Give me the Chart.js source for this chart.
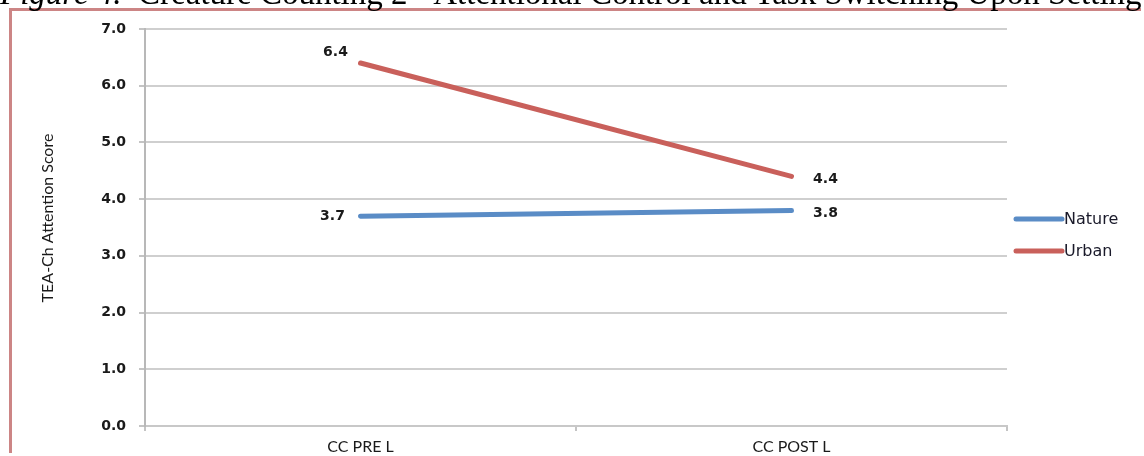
<!DOCTYPE html>
<html>
<head>
<meta charset="utf-8">
<script src="https://cdn.jsdelivr.net/npm/chart.js@4.4.1/dist/chart.umd.min.js"></script>
<style>
  html, body { margin: 0; padding: 0; background: #fff; overflow: hidden; }
  #wrap { position: relative; width: 1144px; height: 456px; overflow: hidden; background: #fff; }
  #chart { position: absolute; left: 0; top: 0; }
  #caption {
    position: absolute; left: 0; top: -23px; white-space: pre; line-height: 1;
    font-family: "Liberation Serif", serif; font-size: 33px; color: #000;
  }
</style>
</head>
<body>
<div id="wrap">
  <canvas id="chart" width="1144" height="456"></canvas>
  <div id="caption"><i>Figure 4.</i>  Creature Counting 2 - Attentional Control and Task Switching Upon Setting</div>
</div>
<script>
// Mean TEA-Ch scores before and after the walk, by setting
const categories = ['CC PRE L', 'CC POST L'];
const natureScores = [3.7, 3.8];
const urbanScores = [6.4, 4.4];
const seriesNames = ['Nature', 'Urban'];
const yTickValues = [0, 1, 2, 3, 4, 5, 6, 7];

const seriesColors = ['#5a8cc6', '#c9605b'];
// label placement around each point: [dx, dy] for first and second category
const labelOffsets = [
  [[-28, 0], [34, 3]],
  [[-25, -11], [34, 3]]
];

// frame edge down the left of the figure and across its top
const figureFrame = {
  id: 'figureFrame',
  beforeDraw(chart) {
    const ctx = chart.ctx;
    ctx.save();
    ctx.fillStyle = '#cc8585';
    ctx.fillRect(9, 8, 3, chart.height - 11);
    ctx.fillRect(9, 8, chart.width - 12, 3);
    ctx.restore();
  }
};

const valueLabels = {
  id: 'valueLabels',
  afterDatasetsDraw(chart) {
    const ctx = chart.ctx;
    ctx.save();
    ctx.font = 'bold 14px "DejaVu Sans"';
    ctx.fillStyle = '#1a1a1a';
    ctx.textAlign = 'center';
    ctx.textBaseline = 'middle';
    chart.data.datasets.forEach((ds, di) => {
      const meta = chart.getDatasetMeta(di);
      meta.data.forEach((pt, i) => {
        const off = labelOffsets[di][i];
        ctx.fillText(ds.data[i].toFixed(1), pt.x + off[0], pt.y + off[1]);
      });
    });
    ctx.restore();
  }
};

const sideLegend = {
  id: 'sideLegend',
  afterDraw(chart) {
    const ctx = chart.ctx;
    const x0 = chart.chartArea.right + 9;
    const rows = [219, 251];
    ctx.save();
    ctx.font = '16px "DejaVu Sans"';
    ctx.textBaseline = 'middle';
    ctx.textAlign = 'left';
    chart.data.datasets.forEach((ds, di) => {
      const y = rows[di];
      ctx.strokeStyle = ds.borderColor;
      ctx.lineWidth = 5;
      ctx.lineCap = 'round';
      ctx.beginPath();
      ctx.moveTo(x0, y);
      ctx.lineTo(x0 + 46, y);
      ctx.stroke();
      ctx.fillStyle = '#1a1a2a';
      ctx.fillText(ds.label, x0 + 48, y + 1);
    });
    ctx.restore();
  }
};

// y-axis title drawn a little above the axis centre
const axisTitle = {
  id: 'axisTitle',
  afterDraw(chart) {
    const ctx = chart.ctx;
    ctx.save();
    ctx.translate(48, 218);
    ctx.rotate(-Math.PI / 2);
    ctx.font = '16px Lato';
    ctx.fillStyle = '#1a1a1a';
    ctx.textAlign = 'center';
    ctx.textBaseline = 'middle';
    ctx.fillText('TEA-Ch Attention Score', 0, 0);
    ctx.restore();
  }
};

new Chart(document.getElementById('chart'), {
  type: 'line',
  data: {
    labels: categories,
    datasets: [
      { label: seriesNames[0], data: natureScores, borderColor: seriesColors[0], backgroundColor: seriesColors[0] },
      { label: seriesNames[1], data: urbanScores, borderColor: seriesColors[1], backgroundColor: seriesColors[1] }
    ]
  },
  options: {
    responsive: false,
    animation: false,
    devicePixelRatio: 1,
    layout: { padding: { top: 29, right: 137, left: 28, bottom: 0 } },
    elements: {
      line: { borderWidth: 5, borderCapStyle: 'round', tension: 0 },
      point: { radius: 0, hoverRadius: 0 }
    },
    plugins: {
      legend: { display: false },
      tooltip: { enabled: false },
      title: { display: false }
    },
    scales: {
      x: {
        offset: true,
        grid: { offset: true, drawOnChartArea: false, tickLength: 5, color: '#c4c4c4', lineWidth: 2 },
        border: { color: '#c8c8c8', width: 2 },
        ticks: { font: { family: 'Lato', size: 16 }, color: '#1a1a1a', padding: 6 },
        afterFit(scale) { scale.height = 30; }
      },
      y: {
        min: 0,
        max: 7,
        afterBuildTicks(scale) { scale.ticks = yTickValues.map(v => ({ value: v })); },
        ticks: {
          callback: v => Number(v).toFixed(1),
          font: { family: '"DejaVu Sans"', size: 14, weight: 'bold' },
          color: '#1a1a1a',
          padding: 13
        },
        grid: { color: '#cfcfcf', lineWidth: 2, tickLength: 6, tickColor: '#c4c4c4' },
        border: { color: '#b8b8b8', width: 2 },
        afterFit(scale) { scale.width = 145 - 28; }
      }
    }
  },
  plugins: [figureFrame, valueLabels, sideLegend, axisTitle]
});
</script>
</body>
</html>
